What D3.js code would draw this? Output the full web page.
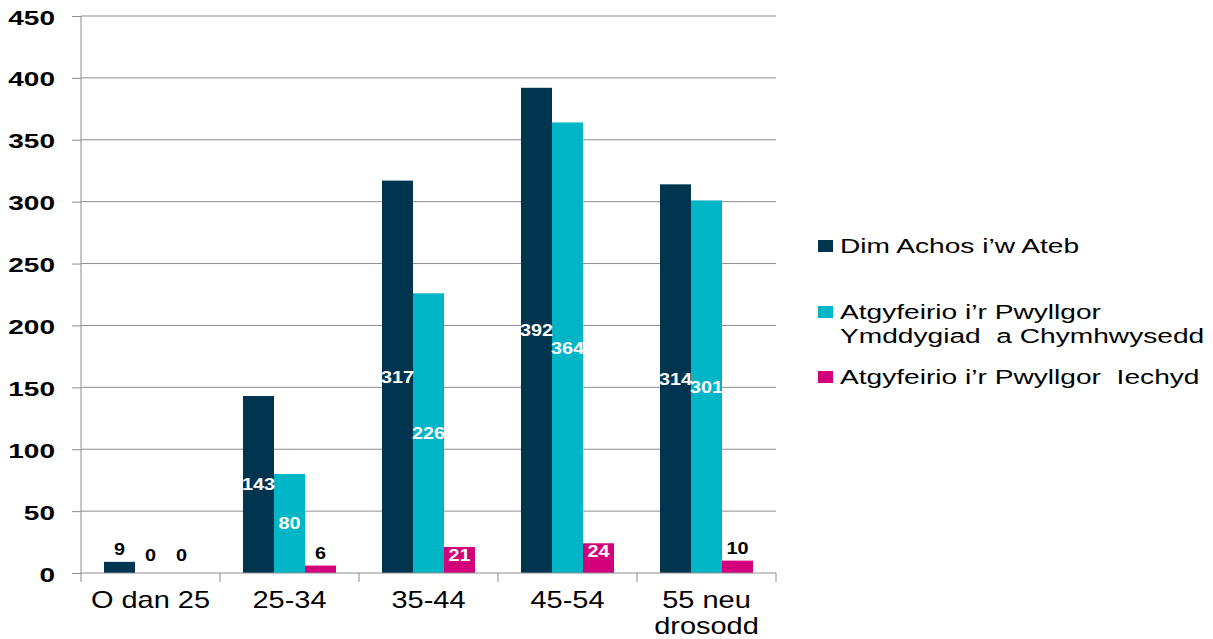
<!DOCTYPE html>
<html>
<head>
<meta charset="utf-8">
<script src="https://cdn.jsdelivr.net/npm/d3@7"></script>
<style>
  body { margin: 0; background: #fff; }
  svg { display: block; font-family: "Liberation Sans", Arial, sans-serif; }
</style>
</head>
<body>
<svg id="chart" width="1213" height="639"></svg>
<script>
// Age bands and outcome counts per band
const categories = ["O dan 25", "25-34", "35-44", "45-54", "55 neu drosodd"];
const seriesNames = [
  "Dim Achos i\u2019w Ateb",
  "Atgyfeirio i\u2019r Pwyllgor Ymddygiad  a Chymhwysedd",
  "Atgyfeirio i\u2019r Pwyllgor  Iechyd"
];
const noCase = [9, 143, 317, 392, 314];
const conduct = [0, 80, 226, 364, 301];
const health = [0, 6, 21, 24, 10];
const yTicks = [0, 50, 100, 150, 200, 250, 300, 350, 400, 450];

const colors = ["#00354F", "#00B5C5", "#D2007A"];
const series = [noCase, conduct, health];

const svg = d3.select("#chart");
const plotLeft = 81, plotRight = 776, plotTop = 16, plotBottom = 573;

// widen text horizontally around its own anchor point
function hstretch(sel, sx) {
  sel.each(function () {
    const t = d3.select(this);
    const tx = +t.attr("x") || 0, ty = +t.attr("y") || 0;
    t.attr("x", 0).attr("y", 0)
      .attr("transform", `translate(${tx},${ty}) scale(${sx},1)`);
  });
}

const x = d3.scaleBand().domain(categories).range([plotLeft, plotRight]).paddingInner(0).paddingOuter(0);
const groupPad = 23;
const xs = d3.scaleBand().domain([0, 1, 2])
  .range([0, x.bandwidth() - 2 * groupPad]);
const y = d3.scaleLinear().domain([0, 450]).range([plotBottom, plotTop]);

// gridlines
svg.append("g").selectAll("line").data(yTicks.filter(d => d > 0)).join("line")
  .attr("x1", plotLeft).attr("x2", plotRight)
  .attr("y1", d => y(d)).attr("y2", d => y(d))
  .attr("stroke", "#8c8c8c").attr("stroke-width", 1);

// bars
const rows = categories.map((c, i) => ({ c, vals: series.map(s => s[i]) }));
const groups = svg.append("g").selectAll("g").data(rows).join("g")
  .attr("transform", d => `translate(${x(d.c) + groupPad},0)`);
groups.selectAll("rect").data(d => d.vals.map((v, k) => ({ v, k }))).join("rect")
  .attr("x", d => xs(d.k)).attr("width", xs.bandwidth())
  .attr("y", d => y(d.v)).attr("height", d => y(0) - y(d.v))
  .attr("fill", d => colors[d.k]);

// value labels: white inside the bar when it is tall enough, black above otherwise
function labelY(v) {
  if (v < 20) return y(v) - (v === 0 ? 12 : 7);
  const h = y(0) - y(v);
  const mid = (y(v) + y(0)) / 2;
  return (h < 40 ? y(v) + 8 : mid) + 6;
}
const vLabels = groups.selectAll("text").data(d => d.vals.map((v, k) => ({ v, k }))).join("text")
  .attr("x", d => xs(d.k) + xs.bandwidth() / 2)
  .attr("y", d => labelY(d.v))
  .attr("text-anchor", "middle")
  .attr("font-size", 16).attr("font-weight", "bold")
  .attr("fill", d => d.v >= 20 ? "#fff" : "#000")
  .text(d => d.v);
hstretch(vLabels, 1.24);

// y axis
const yAxis = d3.axisLeft(y).tickValues(yTicks).tickSize(9).tickPadding(17);
const gy = svg.append("g").attr("transform", `translate(${plotLeft},0)`).call(yAxis);
gy.select(".domain").attr("stroke", "#8c8c8c").attr("d", `M0,${plotBottom + 0.5}V${plotTop}`);
gy.selectAll(".tick line").attr("stroke", "#8c8c8c");
const yLabels = gy.selectAll(".tick text").attr("font-size", 20).attr("font-weight", "bold")
  .attr("fill", "#000").attr("font-family", "Liberation Sans, Arial, sans-serif")
  .attr("dy", null).attr("y", 8);
hstretch(yLabels, 1.4);

// x axis
const xAxis = d3.axisBottom(x).tickSize(9).tickFormat("");
const gx = svg.append("g").attr("transform", `translate(0,${plotBottom})`).call(xAxis);
gx.select(".domain").attr("stroke", "#8c8c8c").attr("d", `M${plotLeft},0H${plotRight}`);
gx.selectAll(".tick").remove();
const edges = categories.map(c => x(c)).concat([plotRight]);
gx.selectAll("line.edge").data(edges).join("line").attr("class", "edge")
  .attr("x1", d => d).attr("x2", d => d).attr("y1", 0).attr("y2", 9)
  .attr("stroke", "#8c8c8c");

// category labels (the last one wraps onto two lines)
const catLines = { "55 neu drosodd": ["55 neu", "drosodd"] };
const catRows = categories.flatMap(c => (catLines[c] || [c]).map((l, i) => ({ c, l, i })));
const xLabels = svg.append("g").selectAll("text").data(catRows).join("text")
  .attr("x", d => x(d.c) + x.bandwidth() / 2)
  .attr("y", d => 608 + d.i * 26)
  .attr("text-anchor", "middle").attr("font-size", 23).attr("fill", "#000")
  .text(d => d.l);
hstretch(xLabels, 1.26);

// legend
const legendItems = [
  { k: 0, lines: ["Dim Achos i\u2019w Ateb"], y: 246 },
  { k: 1, lines: ["Atgyfeirio i\u2019r Pwyllgor", "Ymddygiad  a Chymhwysedd"], y: 312 },
  { k: 2, lines: ["Atgyfeirio i\u2019r Pwyllgor  Iechyd"], y: 377 }
];
const lg = svg.append("g");
lg.selectAll("rect").data(legendItems).join("rect")
  .attr("x", 818).attr("y", d => d.y - 6).attr("width", 15).attr("height", 12)
  .attr("fill", d => colors[d.k]);
const legRows = legendItems.flatMap(d => d.lines.map((l, i) => ({ l, y: d.y + 7 + i * 24 })));
const legLabels = lg.selectAll("text").data(legRows).join("text")
  .attr("x", 840).attr("y", d => d.y)
  .attr("font-size", 21).attr("fill", "#000")
  .attr("xml:space", "preserve").style("white-space", "pre")
  .text(d => d.l);
hstretch(legLabels, 1.34);
</script>
</body>
</html>
